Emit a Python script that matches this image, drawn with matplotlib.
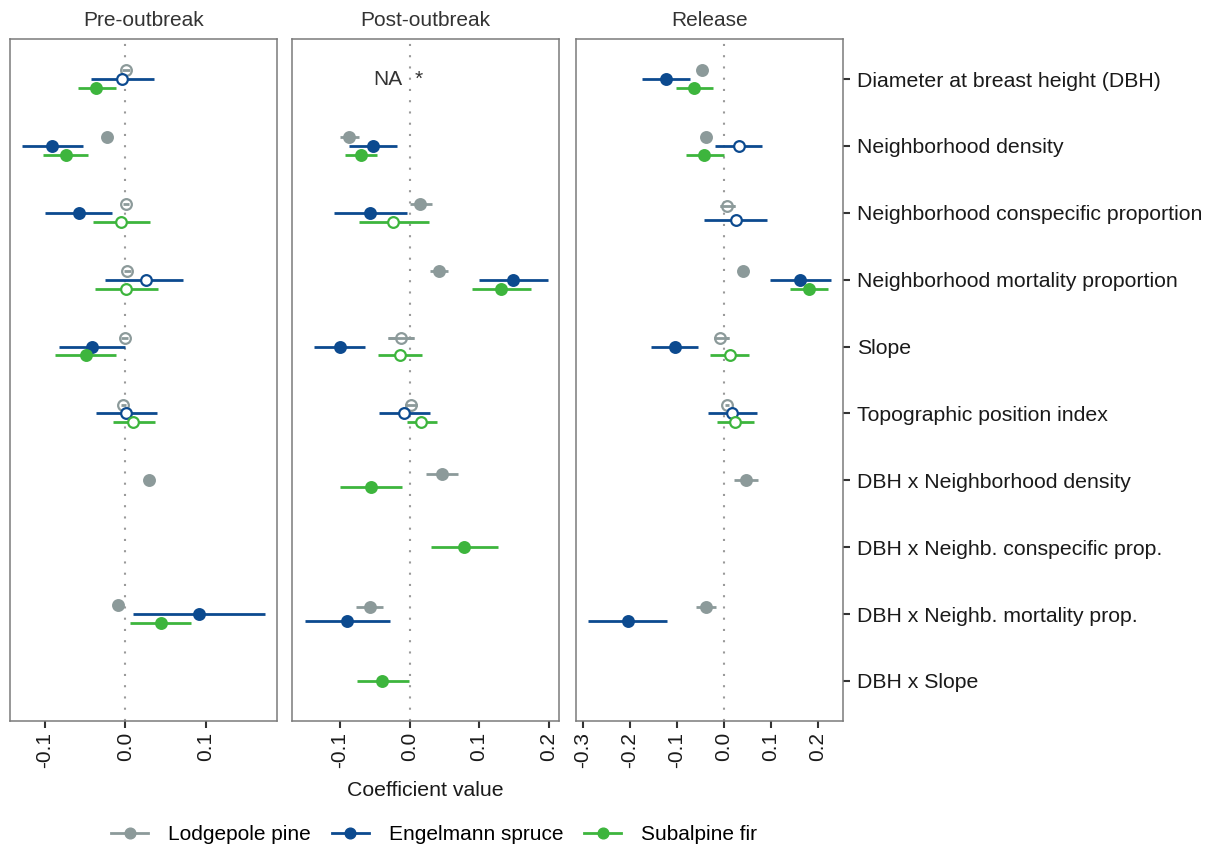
import numpy as np
import matplotlib
matplotlib.use("Agg")
import matplotlib.pyplot as plt
from matplotlib.lines import Line2D

plt.rcParams['font.family'] = ['Liberation Sans', 'DejaVu Sans']

nan = np.nan

periods = ["Pre-outbreak", "Post-outbreak", "Release"]
variables = ["Diameter at breast height (DBH)", "Neighborhood density",
             "Neighborhood conspecific proportion", "Neighborhood mortality proportion",
             "Slope", "Topographic position index", "DBH x Neighborhood density",
             "DBH x Neighb. conspecific prop.", "DBH x Neighb. mortality prop.",
             "DBH x Slope"]
species = ["Lodgepole pine", "Engelmann spruce", "Subalpine fir"]
colors = ["#8C9A9A", "#0C4A8F", "#3DB53D"]

# Pre-outbreak
lp_est_pre = [0.001, -0.023, 0.001, 0.0025, -0.001, -0.0025, 0.0296, nan, -0.0086, nan]
lp_lo_pre = [-0.004, -0.027, -0.003, -0.002, -0.005, -0.006, 0.025, nan, -0.013, nan]
lp_hi_pre = [0.006, -0.019, 0.005, 0.007, 0.003, 0.001, 0.034, nan, -0.004, nan]
lp_sig_pre = [0, 1, 0, 0, 0, 0, 1, 0, 1, 0]
es_est_pre = [-0.004, -0.0905, -0.058, 0.0255, -0.0415, 0.0004, nan, nan, 0.091, nan]
es_lo_pre = [-0.043, -0.128, -0.099, -0.025, -0.082, -0.037, nan, nan, 0.0095, nan]
es_hi_pre = [0.035, -0.053, -0.016, 0.072, -0.001, 0.039, nan, nan, 0.173, nan]
es_sig_pre = [0, 1, 1, 0, 1, 0, 0, 0, 1, 0]
sf_est_pre = [-0.036, -0.074, -0.005, 0.001, -0.0485, 0.010, nan, nan, 0.0436, nan]
sf_lo_pre = [-0.059, -0.102, -0.040, -0.038, -0.087, -0.015, nan, nan, 0.006, nan]
sf_hi_pre = [-0.012, -0.0465, 0.030, 0.041, -0.011, 0.037, nan, nan, 0.081, nan]
sf_sig_pre = [1, 1, 0, 0, 1, 0, 0, 0, 1, 0]

# Post-outbreak
lp_est_post = [nan, -0.0866, 0.0158, 0.042, -0.0129, 0.0024, 0.0473, nan, -0.0574, nan]
lp_lo_post = [nan, -0.100, 0.0014, 0.0297, -0.0316, -0.006, 0.0244, nan, -0.077, nan]
lp_hi_post = [nan, -0.073, 0.032, 0.0555, 0.0062, 0.011, 0.0698, nan, -0.0378, nan]
lp_sig_post = [0, 1, 1, 1, 0, 0, 1, 0, 1, 0]
es_est_post = [nan, -0.053, -0.0564, 0.1487, -0.100, -0.0077, nan, nan, -0.0904, nan]
es_lo_post = [nan, -0.0875, -0.1086, 0.1004, -0.1368, -0.0445, nan, nan, -0.151, nan]
es_hi_post = [nan, -0.0187, -0.0043, 0.1985, -0.0636, 0.0297, nan, nan, -0.028, nan]
es_sig_post = [0, 1, 1, 1, 1, 0, 0, 0, 1, 0]
sf_est_post = [nan, -0.070, -0.0234, 0.1315, -0.0143, 0.0167, -0.0555, 0.0789, nan, -0.0392]
sf_lo_post = [nan, -0.093, -0.0727, 0.0899, -0.046, -0.0043, -0.0995, 0.0306, nan, -0.076]
sf_hi_post = [nan, -0.047, 0.0277, 0.1746, 0.0177, 0.0392, -0.0115, 0.1267, nan, -0.0014]
sf_sig_post = [0, 1, 0, 1, 0, 0, 1, 1, 0, 1]

# Release
lp_est_rel = [-0.0467, -0.038, 0.0071, 0.0403, -0.0092, 0.0057, 0.046, nan, -0.0389, nan]
lp_lo_rel = [-0.052, -0.048, -0.0078, 0.033, -0.022, 0.001, 0.0205, nan, -0.0594, nan]
lp_hi_rel = [-0.041, -0.028, 0.0226, 0.048, 0.0106, 0.010, 0.0722, nan, -0.0177, nan]
lp_sig_rel = [1, 1, 0, 1, 0, 0, 1, 0, 1, 0]
es_est_rel = [-0.123, 0.031, 0.0255, 0.162, -0.1054, 0.0177, nan, nan, -0.205, nan]
es_lo_rel = [-0.174, -0.0184, -0.0418, 0.097, -0.155, -0.0333, nan, nan, -0.290, nan]
es_hi_rel = [-0.072, 0.080, 0.092, 0.228, -0.0545, 0.0694, nan, nan, -0.121, nan]
es_sig_rel = [1, 0, 0, 1, 1, 0, 0, 0, 1, 0]
sf_est_rel = [-0.063, -0.0418, nan, 0.1805, 0.0127, 0.024, nan, nan, nan, nan]
sf_lo_rel = [-0.1026, -0.0807, nan, 0.140, -0.031, -0.0149, nan, nan, nan, nan]
sf_hi_rel = [-0.0226, -0.0007, nan, 0.222, 0.0538, 0.0637, nan, nan, nan, nan]
sf_sig_rel = [1, 1, 0, 1, 0, 0, 0, 0, 0, 0]

panels = [
    [(lp_est_pre, lp_lo_pre, lp_hi_pre, lp_sig_pre),
     (es_est_pre, es_lo_pre, es_hi_pre, es_sig_pre),
     (sf_est_pre, sf_lo_pre, sf_hi_pre, sf_sig_pre)],
    [(lp_est_post, lp_lo_post, lp_hi_post, lp_sig_post),
     (es_est_post, es_lo_post, es_hi_post, es_sig_post),
     (sf_est_post, sf_lo_post, sf_hi_post, sf_sig_post)],
    [(lp_est_rel, lp_lo_rel, lp_hi_rel, lp_sig_rel),
     (es_est_rel, es_lo_rel, es_hi_rel, es_sig_rel),
     (sf_est_rel, sf_lo_rel, sf_hi_rel, sf_sig_rel)],
]

xlims = [(-0.143, 0.188), (-0.169, 0.215), (-0.315, 0.253)]
xticks = [[-0.1, 0.0, 0.1], [-0.1, 0.0, 0.1, 0.2], [-0.3, -0.2, -0.1, 0.0, 0.1, 0.2]]
lefts = [10, 292, 576]
W, H = 1216, 849

fig = plt.figure(figsize=(W / 100, H / 100), dpi=100)
dodge = 0.4
txt = "#1a1a1a"

for p in range(3):
    ax = fig.add_axes([lefts[p] / W, 1 - 721 / H, 267 / W, 682 / H])
    ax.axvline(0, color="#9a9a9a", lw=1.5, ls=(0, (1, 4.4)), zorder=1)
    for r in range(len(variables)):
        present = [s for s in range(3) if not np.isnan(panels[p][s][0][r])]
        n = len(present)
        for k, s in enumerate(present):
            est, lo, hi, sig = panels[p][s]
            y = r + 1 + (k - (n - 1) / 2) * dodge / n
            ax.plot([lo[r], hi[r]], [y, y], color=colors[s], lw=2.0,
                    solid_capstyle="butt", zorder=2)
            fc = colors[s] if sig[r] else "white"
            ax.plot(est[r], y, "o", ms=7.7, mfc=fc, mec=colors[s], mew=1.6, zorder=3)
            # lodgepole pine intervals show through the open circles
            if s == 0 and not sig[r]:
                ax.plot([lo[r], hi[r]], [y, y], color=colors[s], lw=2.0,
                        solid_capstyle="butt", zorder=4)
    ax.set_xlim(*xlims[p])
    ax.set_ylim(10.6, 0.4)
    ax.set_xticks(xticks[p])
    ax.set_xticklabels([f"{t:.1f}" for t in xticks[p]], rotation=90, fontsize=15, color=txt)
    ax.tick_params(axis="x", length=5, width=1.5, color="#333333", pad=3)
    for sp in ax.spines.values():
        sp.set_color("#7a7a7a")
        sp.set_linewidth(1.1)
    ax.set_title(periods[p], fontsize=15, color="#333333", pad=9)
    if p == 2:
        ax.yaxis.tick_right()
        ax.set_yticks(range(1, len(variables) + 1))
        ax.set_yticklabels(variables, fontsize=15.3, color=txt)
        ax.tick_params(axis="y", length=5, width=1.5, color="#333333", pad=5)
    else:
        ax.set_yticks([])
    if p == 1:
        ax.set_xlabel("Coefficient value", fontsize=15.3, color=txt, labelpad=9)
        ax.text(-0.0105, 1, "NA", ha="right", va="center", fontsize=15, color="#333333")
        ax.text(0.007, 1, "*", ha="left", va="center", fontsize=15, color="#333333")

handles = [Line2D([0], [0], color=c, lw=2.0, marker="o", ms=7.7) for c in colors]
fig.legend(handles, species, loc="lower center", bbox_to_anchor=(0.357, -0.016), ncol=3,
           frameon=False, fontsize=15, handlelength=1.78, handletextpad=0.96,
           columnspacing=1.0)

fig.savefig("out.png", dpi=100)
